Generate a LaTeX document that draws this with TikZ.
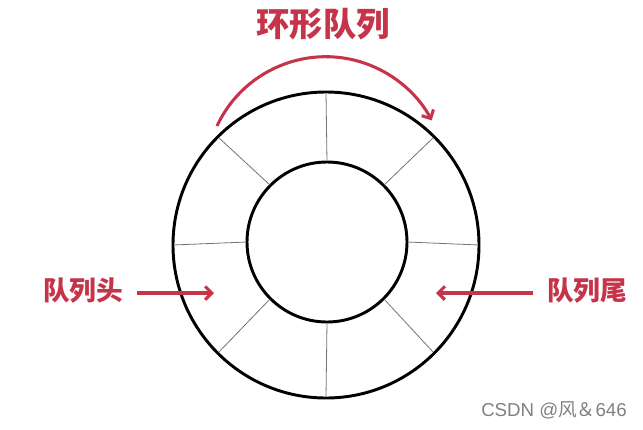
\documentclass[tikz,border=0pt]{standalone}
\usepackage{fontspec}
\setmainfont{Liberation Sans}
\newfontfamily\cjkfont{Noto Sans CJK SC}
\usepackage{xcolor}
\usetikzlibrary{arrows.meta,calc}
\definecolor{qred}{RGB}{198,52,74}
\tikzstyle{ring} = [circle, draw=black, line width=2.2pt, inner sep=0pt, outer sep=0pt]
\tikzstyle{spoke} = [draw=black!55, line width=0.6pt, shorten <=1pt, shorten >=1pt]
\tikzstyle{qlabel} = [text=qred, inner sep=0pt, font=\cjkfont\bfseries\fontsize{20}{24}\selectfont]
\tikzstyle{redarrow} = [draw=qred, line width=2.3pt, -{Straight Barb[length=5pt,width=10pt,line width=2.3pt]}]

\begin{document}
\begin{tikzpicture}[x=0.75pt,y=-0.75pt]
      \useasboundingbox (0,0) rectangle (643,429);
      \node (outer)[ring, minimum size=229.5pt] at (326,245) {};
      \node (inner)[ring, minimum size=120pt] at (327,242) {};
      \foreach \a in {0,45,...,315}
        \draw[spoke] (inner.\a) -- (outer.\a);
      \node (title)[qlabel, font=\cjkfont\bfseries\fontsize{25}{29}\selectfont] at (323,24) {环形队列};
      \node (head)[qlabel] at (83,291) {队列头};
      \node (tail)[qlabel] at (587,291) {队列尾};
      \coordinate (arcstart) at (217,126);
      \coordinate (headend) at (214,293);
      \coordinate (tailend) at (436,293);
      \draw[redarrow] (arcstart) arc[start angle=155, end angle=28, radius=90pt];
      \draw[redarrow] ($(head.east |- headend)+(14,0)$) -- (headend);
      \draw[redarrow] ($(tail.west |- tailend)+(-14,0)$) -- (tailend);
      \node (mark)[text=black!50, font=\fontsize{14}{16}\selectfont] at (554,410) {CSDN @{\cjkfont 风＆}646};
\end{tikzpicture}
\end{document}
